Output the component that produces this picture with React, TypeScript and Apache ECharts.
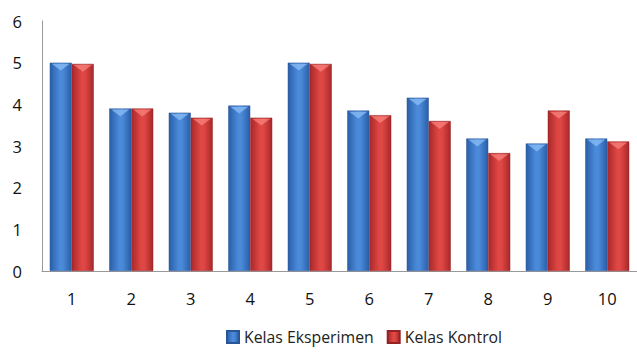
import React, { useEffect, useRef } from "react";
import * as echarts from "echarts";

const categories = ["1", "2", "3", "4", "5", "6", "7", "8", "9", "10"];
const eksperimen = [5.0, 3.9, 3.8, 3.97, 5.0, 3.85, 4.16, 3.18, 3.06, 3.18];
const kontrol = [4.97, 3.9, 3.68, 3.68, 4.97, 3.74, 3.6, 2.83, 3.85, 3.11];
const seriesNames = ["Kelas Eksperimen", "Kelas Kontrol"];

const FONT = "'Open Sans', 'Noto Sans', sans-serif";

function grad(dark: string, light: string) {
  return new echarts.graphic.LinearGradient(0, 0, 1, 0, [
    { offset: 0, color: dark },
    { offset: 0.45, color: light },
    { offset: 0.6, color: light },
    { offset: 1, color: dark },
  ]);
}

export default function App() {
  const ref = useRef<HTMLDivElement>(null);
  useEffect(() => {
    document.body.style.margin = "0";
    const chart = echarts.init(ref.current!, null, { renderer: "svg" });
    const blue = grad("#2a5ea8", "#4a8ad9");
    const red = grad("#a8282a", "#df4744");
    const cap = (name: string, data: number[], color: string) => ({
      name,
      type: "pictorialBar",
      data,
      barWidth: 22,
      barGap: "0%",
      symbol: "triangle",
      symbolRotate: 180,
      symbolSize: [18, 7],
      symbolPosition: "end",
      symbolOffset: [0, 1],
      silent: true,
      z: 3,
      itemStyle: { color },
    });
    chart.setOption({
      animation: false,
      backgroundColor: "#ffffff",
      textStyle: { fontFamily: FONT },
      grid: { left: 42, right: -9, top: 21, bottom: 81, containLabel: false },
      legend: {
        bottom: 2,
        left: 221,
        itemWidth: 12,
        itemHeight: 12,
        itemGap: 13,
        icon: "rect",
        textStyle: { fontFamily: FONT, fontSize: 15.8, color: "#222" },
        data: seriesNames,
      },
      xAxis: {
        type: "category",
        data: categories,
        axisLine: { lineStyle: { color: "#999" } },
        axisTick: { show: false },
        axisLabel: { fontFamily: FONT, fontSize: 16.5, color: "#111", margin: 19 },
      },
      yAxis: {
        type: "value",
        min: 0,
        max: 6,
        interval: 1,
        axisLine: { show: true, lineStyle: { color: "#999" } },
        axisTick: { show: false },
        splitLine: { show: false },
        axisLabel: { fontFamily: FONT, fontSize: 16.5, color: "#111", margin: 20 },
      },
      series: [
        {
          name: seriesNames[0],
          type: "bar",
          data: eksperimen,
          barWidth: 22,
          barGap: "0%",
          itemStyle: { color: blue, borderColor: "#2a5596", borderWidth: 0.5 },
        },
        {
          name: seriesNames[1],
          type: "bar",
          data: kontrol,
          barWidth: 22,
          barGap: "0%",
          itemStyle: { color: red, borderColor: "#952224", borderWidth: 0.5 },
        },
        cap("capE", eksperimen, "rgba(140,190,245,0.75)"),
        cap("capK", kontrol, "rgba(250,130,125,0.75)"),
      ],
    });
    return () => chart.dispose();
  }, []);
  return <div ref={ref} style={{ width: 637, height: 352 }} />;
}
